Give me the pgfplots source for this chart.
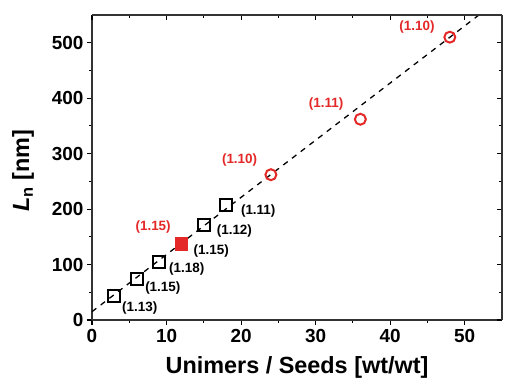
\documentclass[border=0pt]{standalone}
\usepackage{pgfplots}
\pgfplotsset{compat=1.18}
\usepackage{fontspec}
\setmainfont{Liberation Sans}
\definecolor{myred}{RGB}{228,40,40}
\begin{document}
\begin{tikzpicture}
\pgfplotsset{
  common/.style={
    scale only axis, width=410bp, height=305bp,
    xmin=0, xmax=55, ymin=0, ymax=550,
    xtick={0,10,...,50}, ytick={0,100,...,500},
    minor x tick num=1, minor y tick num=1,
    major tick length=5pt, minor tick length=3pt,
    every tick/.style={black, line width=1.1pt},
    axis line style={line width=1.3pt, black!80},
  }
}
\begin{axis}[common, name=ax,
  axis x line*=bottom, axis y line*=left,
  tick align=outside,
  /pgf/number format/assume math mode=true,
  ticklabel style={font=\fontsize{19}{22}\selectfont\bfseries},
  xticklabel style={yshift=-1pt},
  xlabel={\bfseries Unimers / Seeds [wt/wt]},
  ylabel={\bfseries\textit{L}\textsubscript{n} [nm]},
  label style={font=\fontsize{23.5}{27}\selectfont\bfseries},
  xlabel style={at={(axis description cs:0.5,-0.155)}, anchor=center},
  ylabel style={at={(axis description cs:-0.168,0.49)}, anchor=center},
  clip=false,
]
\addplot[black, line width=1.3pt, dash pattern=on 5.5pt off 5.5pt] coordinates {(0,15) (51.9,550)};
\addplot[only marks, mark=square, mark size=6pt, line width=2pt, black, mark options={fill=white}] coordinates {
(3,44) (6,74) (9,105) (15,172) (18,207)};
\addplot[only marks, mark=square*, mark size=6pt, line width=1.5pt, myred, mark options={fill=myred}] coordinates {(12,137)};
\addplot[only marks, mark=o, mark size=5.5pt, line width=2pt, myred, mark options={fill=white}] coordinates {
(24,262) (36,362) (48,510)};
\begin{scope}[every node/.style={font=\fontsize{13.5}{16}\selectfont\bfseries}]
\node at (axis cs:6.4,22) {(1.13)};
\node at (axis cs:9.5,58) {(1.15)};
\node at (axis cs:12.7,92) {(1.18)};
\node at (axis cs:16.0,125) {(1.15)};
\node at (axis cs:19.1,161) {(1.12)};
\node at (axis cs:22.3,197) {(1.11)};
\node[text=myred] at (axis cs:8.2,167) {(1.15)};
\node[text=myred] at (axis cs:19.8,289) {(1.10)};
\node[text=myred] at (axis cs:31.4,390) {(1.11)};
\node[text=myred] at (axis cs:43.6,528) {(1.10)};
\end{scope}
\end{axis}
\begin{axis}[common,
  axis x line*=top, axis y line*=right,
  tick align=inside,
  xticklabels={}, yticklabels={},
]
\addplot[draw=none] coordinates {(0,0)};
\end{axis}
\pgfresetboundingbox
\path ([shift={(-92bp,-59bp)}]ax.south west) rectangle ([shift={(3bp,15bp)}]ax.north east);
\end{tikzpicture}
\end{document}
